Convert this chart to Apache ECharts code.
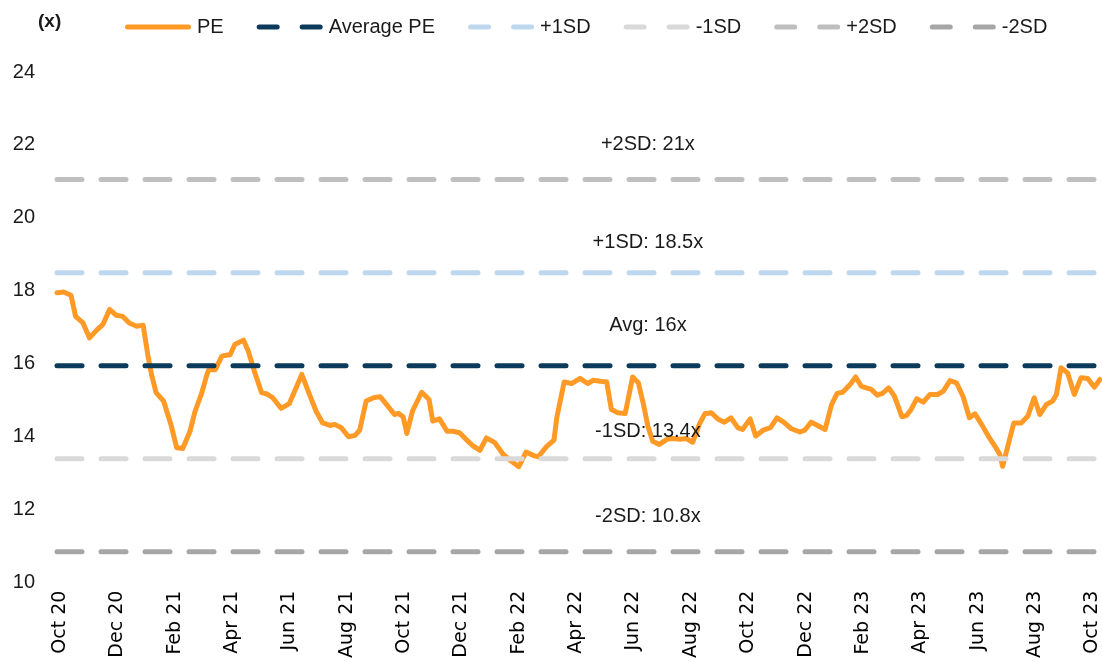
<!DOCTYPE html>
<html>
<head>
<meta charset="utf-8">
<script src="https://cdn.jsdelivr.net/npm/echarts@6/dist/echarts.min.js"></script>
<style>
  html, body { margin: 0; padding: 0; background: #fff; }
  #chart { width: 1102px; height: 661px; }
</style>
</head>
<body>
<div id="chart"></div>
<script>
// weekly PE readings (dates approximate)
var peDates = [
  '2020-09-28','2020-10-05','2020-10-13','2020-10-18','2020-10-26','2020-11-02','2020-11-09','2020-11-16','2020-11-23','2020-11-30',
  '2020-12-07','2020-12-14','2020-12-22','2020-12-29','2021-01-03','2021-01-07','2021-01-12','2021-01-20','2021-01-28','2021-02-03',
  '2021-02-09','2021-02-16','2021-02-21','2021-02-27','2021-03-05','2021-03-07','2021-03-14','2021-03-21','2021-03-27','2021-03-30',
  '2021-04-04','2021-04-13','2021-04-18','2021-04-25','2021-05-02','2021-05-07','2021-05-14','2021-05-23','2021-06-01','2021-06-14',
  '2021-06-22','2021-06-29','2021-07-06','2021-07-14','2021-07-19','2021-07-26','2021-08-03','2021-08-10','2021-08-15','2021-08-22',
  '2021-08-30','2021-09-06','2021-09-14','2021-09-21','2021-09-25','2021-09-30','2021-10-04','2021-10-10','2021-10-20','2021-10-28',
  '2021-11-01','2021-11-08','2021-11-16','2021-11-22','2021-11-29','2021-12-06','2021-12-13','2021-12-21','2021-12-28','2022-01-06',
  '2022-01-15','2022-01-24','2022-02-01','2022-02-08','2022-02-15','2022-02-20','2022-02-28','2022-03-08','2022-03-11','2022-03-19',
  '2022-03-27','2022-04-05','2022-04-13','2022-04-19','2022-04-26','2022-05-03','2022-05-08','2022-05-15','2022-05-23','2022-05-31',
  '2022-06-06','2022-06-11','2022-06-16','2022-06-21','2022-06-28','2022-07-06','2022-07-13','2022-07-20','2022-07-27','2022-08-03',
  '2022-08-10','2022-08-16','2022-08-23','2022-08-30','2022-09-06','2022-09-13','2022-09-20','2022-09-25','2022-10-03','2022-10-09',
  '2022-10-17','2022-10-25','2022-11-01','2022-11-08','2022-11-16','2022-11-25','2022-11-30','2022-12-07','2022-12-14','2022-12-22',
  '2022-12-29','2023-01-04','2023-01-10','2023-01-18','2023-01-24','2023-01-30','2023-02-04','2023-02-09','2023-02-15','2023-02-20',
  '2023-02-26','2023-03-04','2023-03-12','2023-03-17','2023-03-22','2023-03-28','2023-04-04','2023-04-11','2023-04-19','2023-04-25',
  '2023-05-02','2023-05-09','2023-05-16','2023-05-23','2023-05-29','2023-06-05','2023-06-12','2023-06-19','2023-06-24','2023-06-27',
  '2023-07-03','2023-07-09','2023-07-17','2023-07-24','2023-07-31','2023-08-06','2023-08-13','2023-08-20','2023-08-24','2023-08-29',
  '2023-09-05','2023-09-12','2023-09-19','2023-09-26','2023-10-03','2023-10-09'
];
var peValues = [
  17.95,17.97,17.88,17.30,17.12,16.71,16.91,17.08,17.49,17.33,
  17.30,17.12,17.03,17.06,16.25,15.71,15.21,14.98,14.34,13.70,
  13.68,14.15,14.70,15.16,15.71,15.84,15.84,16.21,16.24,16.25,
  16.53,16.65,16.35,15.75,15.21,15.18,15.07,14.78,14.91,15.71,
  15.16,14.70,14.38,14.31,14.34,14.25,14.00,14.04,14.18,14.98,
  15.07,15.10,14.84,14.61,14.64,14.55,14.09,14.70,15.22,15.02,
  14.43,14.49,14.15,14.15,14.11,13.93,13.76,13.63,13.97,13.84,
  13.52,13.33,13.18,13.58,13.49,13.45,13.73,13.91,14.52,15.50,
  15.46,15.60,15.46,15.55,15.52,15.50,14.75,14.66,14.64,15.64,
  15.48,14.93,14.29,13.88,13.79,13.93,13.95,13.93,13.95,13.85,
  14.34,14.63,14.66,14.49,14.40,14.52,14.25,14.20,14.49,14.02,
  14.18,14.25,14.52,14.40,14.22,14.13,14.18,14.40,14.31,14.20,
  14.88,15.19,15.22,15.43,15.64,15.39,15.34,15.30,15.14,15.19,
  15.34,15.11,14.55,14.58,14.75,15.04,14.95,15.16,15.16,15.25,
  15.54,15.48,15.11,14.52,14.63,14.34,14.02,13.74,13.52,13.19,
  13.79,14.38,14.38,14.56,15.07,14.61,14.88,14.98,15.16,15.89,
  15.75,15.16,15.62,15.60,15.36,15.57
];

var avgPE = 15.95;
var plus1SD = 18.5;
var minus1SD = 13.4;
var plus2SD = 21.05;
var minus2SD = 10.85;

var xLabels = ['Oct 20','Dec 20','Feb 21','Apr 21','Jun 21','Aug 21','Oct 21','Dec 21','Feb 22','Apr 22',
  'Jun 22','Aug 22','Oct 22','Dec 22','Feb 23','Apr 23','Jun 23','Aug 23','Oct 23'];
var yTicks = [10, 12, 14, 16, 18, 20, 22, 24];

var notes = [
  { text: '+2SD: 21x', y: 22.0 },
  { text: '+1SD: 18.5x', y: 19.32 },
  { text: 'Avg: 16x', y: 17.05 },
  { text: '-1SD: 13.4x', y: 14.15 },
  { text: '-2SD: 10.8x', y: 11.82 }
];

// months since 1 Oct 2020
function monthPos(s) {
  var p = s.split('-');
  var y = +p[0], m = +p[1], d = +p[2];
  var dim = new Date(y, m, 0).getDate();
  return (y - 2020) * 12 + (m - 10) + (d - 1) / dim;
}

var chart = echarts.init(document.getElementById('chart'));

var peData = peDates.map(function (d, i) { return [monthPos(d), peValues[i]]; });
var x0 = monthPos(peDates[0]);
var x1 = monthPos(peDates[peDates.length - 1]);

// legend icons: one rounded bar, or two rounded dashes
var solidIcon = 'path://M2.5,0H63.5A2.5,2.5,0,0,1,63.5,5H2.5A2.5,2.5,0,0,1,2.5,0Z';
var dashIcon = 'path://M2.5,0H20.5A2.5,2.5,0,0,1,20.5,5H2.5A2.5,2.5,0,0,1,2.5,0Z' +
  'M45.5,0H63.5A2.5,2.5,0,0,1,63.5,5H45.5A2.5,2.5,0,0,1,45.5,0Z';

function flatLine(name, v, color) {
  return {
    name: name,
    type: 'line',
    data: [[x0, v], [x1, v]],
    symbol: 'none',
    silent: true,
    z: 3,
    lineStyle: { color: color, width: 5, type: [25, 19], cap: 'round' },
    itemStyle: { color: color }
  };
}

var labelFont = 'Liberation Sans';

var avgSeries = flatLine('Average PE', avgPE, '#0b3a5b');
avgSeries.markPoint = {
  symbol: 'circle',
  symbolSize: 0,
  silent: true,
  label: { show: true, position: 'inside', formatter: '{b}', color: '#1a1a1a', fontSize: 20, fontFamily: labelFont },
  data: notes.map(function (n) { return { name: n.text, coord: [20.5, n.y] }; })
};

var option = {
  animation: false,
  backgroundColor: '#fff',
  graphic: [{
    type: 'text',
    left: 38,
    top: 12,
    style: { text: '(x)', fontSize: 19, fontWeight: 'bold', fontFamily: labelFont, fill: '#1a1a1a' }
  }],
  legend: {
    left: 120,
    top: 12,
    itemWidth: 66,
    itemHeight: 5,
    itemGap: 33,
    textStyle: { fontSize: 20, fontFamily: labelFont, color: '#1a1a1a', padding: [0, 0, 0, 1] },
    data: [
      { name: 'PE', icon: solidIcon },
      { name: 'Average PE', icon: dashIcon },
      { name: '+1SD', icon: dashIcon },
      { name: '-1SD', icon: dashIcon },
      { name: '+2SD', icon: dashIcon },
      { name: '-2SD', icon: dashIcon }
    ]
  },
  grid: { left: 55, right: 0, top: 72, bottom: 78 },
  xAxis: {
    type: 'value',
    min: -0.17,
    max: 36.32,
    axisLine: { show: false },
    axisTick: { show: false },
    splitLine: { show: false },
    axisLabel: {
      customValues: xLabels.map(function (l, i) { return i * 2; }),
      formatter: function (v) { return xLabels[Math.round(v / 2)]; },
      rotate: 90,
      margin: 8,
      fontSize: 19,
      fontFamily: 'DejaVu Sans',
      color: '#000'
    }
  },
  yAxis: {
    type: 'value',
    min: yTicks[0],
    max: yTicks[yTicks.length - 1],
    interval: 2,
    axisLine: { show: false },
    axisTick: { show: false },
    splitLine: { show: false },
    axisLabel: { margin: 20, fontSize: 20, fontFamily: labelFont, color: '#1a1a1a' }
  },
  series: [
    {
      name: 'PE',
      type: 'line',
      data: peData,
      symbol: 'none',
      z: 2,
      lineStyle: { color: '#ff9a26', width: 5, cap: 'round', join: 'round' },
      itemStyle: { color: '#ff9a26' }
    },
    avgSeries,
    flatLine('+1SD', plus1SD, '#bdd7ee'),
    flatLine('-1SD', minus1SD, '#d9d9d9'),
    flatLine('+2SD', plus2SD, '#bfbfbf'),
    flatLine('-2SD', minus2SD, '#a6a6a6')
  ]
};

chart.setOption(option);
</script>
</body>
</html>
